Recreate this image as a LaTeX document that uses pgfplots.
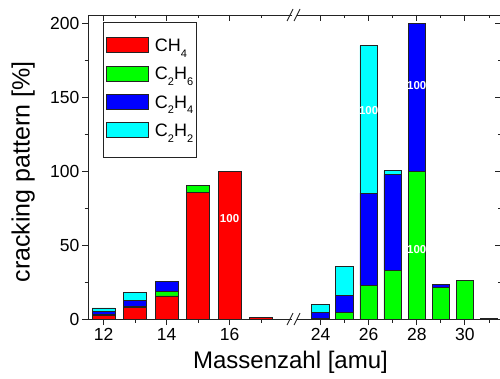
\documentclass[border=0pt]{standalone}
\usepackage{pgfplots}
\pgfplotsset{compat=1.18}
\usepackage{fontspec}
\setmainfont{Liberation Sans}
\definecolor{cRed}{RGB}{255,0,0}
\definecolor{cGreen}{RGB}{0,255,0}
\definecolor{cBlue}{RGB}{0,0,255}
\definecolor{cCyan}{RGB}{0,255,255}
\definecolor{axc}{RGB}{35,35,35}
\newcommand\sub[1]{\raisebox{-5.5pt}{\fontsize{11}{11}\selectfont #1}}
\tikzset{
  barsty/.style={draw=axc, line width=0.8pt},
  lbl/.style={text=white, font=\bfseries\fontsize{11.5}{12}\selectfont, inner sep=0pt},
}
\pgfplotsset{
  seg/.style={
    scale only axis, width=204.5pt, height=304pt,
    ymin=0, ymax=206,
    axis line style={draw=none},
    tick style={color=axc, line width=0.9pt},
    major tick length=6pt, minor tick length=3.5pt,
    tick label style={font=\fontsize{17.5}{17.5}\selectfont},
    yticklabel style={inner xsep=2.5pt},
    /pgf/number format/assume math mode=true,
    clip=false,
  },
  yt/.style={ytick={0,50,...,200}, minor ytick={25,75,125,175}},
}
\begin{document}
\begin{tikzpicture}
\useasboundingbox (0,0) rectangle (500pt,378pt);
% left segment: main axis
\begin{axis}[seg, yt, at={(88pt,59pt)}, anchor=south west,
  xmin=11.5, xmax=18, xtick={12,14,16}, minor xtick={13,15,17},
  xtick pos=left, ytick pos=left, tick align=outside,
  ybar stacked, bar width=0.73,
  legend style={at={(0.072,0.976)}, anchor=north west, draw=axc, line width=0.8pt,
    fill=white, font=\fontsize{18}{18}\selectfont, inner xsep=3pt, inner ysep=14.5pt,
    row sep=8pt, column sep=6pt, nodes={inner sep=0pt, text height=12pt, text depth=6pt}},
  legend cell align=left,
  legend image code/.code={\draw[#1] (0pt,-4pt) rectangle (42pt,11pt);},
]
\addplot[barsty, fill=cRed] coordinates {(12,2.3) (13,7.7) (14,15.6) (15,85.8) (16,100) (17,1.2)};
\addplot[barsty, fill=cGreen] coordinates {(12,0.5) (13,1.0) (14,3.0) (15,4.4) (16,0) (17,0)};
\addplot[barsty, fill=cBlue] coordinates {(12,2.2) (13,3.6) (14,7.0) (15,0) (16,0) (17,0)};
\addplot[barsty, fill=cCyan] coordinates {(12,2.5) (13,5.5) (14,0) (15,0) (16,0) (17,0)};
\legend{CH\sub{4}, C\sub{2}H\sub{6}, C\sub{2}H\sub{4}, C\sub{2}H\sub{2}}
\draw[axc, line width=0.9pt] (rel axis cs:1,1) -- (rel axis cs:0,1) -- (rel axis cs:0,0) -- (rel axis cs:1,0);
\end{axis}
% left segment: top ticks and labels
\begin{axis}[seg, at={(88pt,59pt)}, anchor=south west,
  xmin=11.5, xmax=18, xtick={12,14,16}, minor xtick={13,15,17},
  xtick pos=right, ytick=\empty, tick align=inside, xticklabels={}]
\node[lbl] at (axis cs:16,67.8) {100};
\end{axis}
% right segment: main axis
\begin{axis}[seg, at={(296.5pt,59pt)}, anchor=south west,
  xmin=23, xmax=31.5, xtick={24,26,28,30}, minor xtick={25,27,29,31},
  xtick pos=left, ytick=\empty, tick align=outside,
  ybar stacked, bar width=0.73,
]
\addplot[barsty, fill=cGreen] coordinates {(24,0.5) (25,4.2) (26,23) (27,33.2) (28,100) (29,21.5) (30,26.2) (31,0.5)};
\addplot[barsty, fill=cBlue] coordinates {(24,3.7) (25,11.7) (26,62.3) (27,64.8) (28,100) (29,2.2) (30,0) (31,0)};
\addplot[barsty, fill=cCyan] coordinates {(24,5.7) (25,20) (26,100) (27,2.5) (28,0) (29,0) (30,0) (31,0)};
\draw[axc, line width=0.9pt] (rel axis cs:0,1) -- (rel axis cs:1,1) -- (rel axis cs:1,0) -- (rel axis cs:0,0);
\draw[axc, line width=0.9pt] ([xshift=-9.5pt,yshift=-6pt]rel axis cs:0,1) -- ++(6pt,12pt);
\draw[axc, line width=0.9pt] ([xshift=-2.5pt,yshift=-6pt]rel axis cs:0,1) -- ++(6pt,12pt);
\draw[axc, line width=0.9pt] ([xshift=-9.5pt,yshift=-6pt]rel axis cs:0,0) -- ++(6pt,12pt);
\draw[axc, line width=0.9pt] ([xshift=-2.5pt,yshift=-6pt]rel axis cs:0,0) -- ++(6pt,12pt);
\end{axis}
% right segment: top and right ticks and labels
\begin{axis}[seg, yt, at={(296.5pt,59pt)}, anchor=south west,
  xmin=23, xmax=31.5, xtick={24,26,28,30}, minor xtick={25,27,29,31},
  xtick pos=right, ytick pos=right, tick align=inside, xticklabels={}, yticklabels={}]
\node[lbl] at (axis cs:26,141) {100};
\node[lbl] at (axis cs:28,158) {100};
\node[lbl] at (axis cs:28,47) {100};
\end{axis}
% axis titles
\node[font=\fontsize{24}{24}\selectfont, anchor=base] at (290.5pt,10pt) {Massenzahl [amu]};
\node[font=\fontsize{25}{25}\selectfont, rotate=90, anchor=base] at (29.5pt,206pt) {cracking pattern [\%]};
\end{tikzpicture}
\end{document}
